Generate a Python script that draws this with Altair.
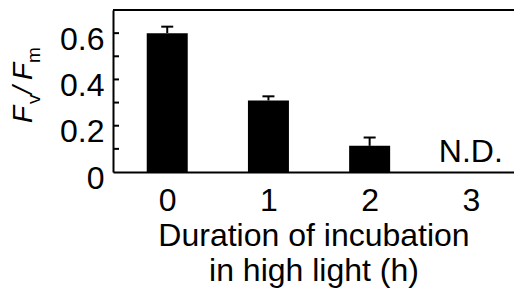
import altair as alt
import pandas as pd

hours = [0, 1, 2]
fvfm = [0.60, 0.309, 0.113]
err_upper = [0.628, 0.327, 0.149]
nd_hour = [3]
nd_text = ["N.D."]
x_ticks = [0, 1, 2, 3]
y_labels = [0, 0.2, 0.4, 0.6]
y_minor = [0.1, 0.2, 0.3, 0.4, 0.5, 0.6]

W, H = 401, 162
FONT = "Liberation Sans"
FS = 32

df = pd.DataFrame({"h": hours, "v": fvfm, "u": err_upper})
nd = pd.DataFrame({"h": nd_hour, "v": [0], "t": nd_text})
ticks = pd.DataFrame({"y": y_minor})

xs = alt.Scale(domain=[-0.4865, 3.377], nice=False, zero=False)
ys = alt.Scale(domain=[0, 0.7], nice=False)

xax = alt.Axis(values=x_ticks, format="d", tickSize=0, labelFontSize=FS, labelFont=FONT,
               labelColor="black", labelPadding=13, domainColor="black", domainWidth=2,
               grid=False, title=["Duration of incubation", "in high light (h)"],
               titleFont=FONT, titleFontSize=FS, titleFontWeight="normal", titleColor="black",
               titleLineHeight=35, titlePadding=4)
yax = alt.Axis(values=y_labels, labelExpr="datum.value == 0 ? '0' : format(datum.value, '.1f')",
               tickSize=0, labelFontSize=FS, labelFont=FONT, labelColor="black", labelPadding=9,
               labelBaseline="middle", labelOffset=6,
               domainColor="black", domainWidth=2, grid=False, title=None)

bars = alt.Chart(df).mark_bar(color="black", size=41).encode(
    x=alt.X("h:Q", scale=xs, axis=xax),
    y=alt.Y("v:Q", scale=ys, axis=yax),
)
stem = alt.Chart(df).mark_rule(color="black", strokeWidth=2).encode(
    x="h:Q", y="v:Q", y2="u:Q")
cap = alt.Chart(df).mark_rule(color="black", strokeWidth=2, xOffset=-6, x2Offset=6).encode(
    x="h:Q", x2="h:Q", y="u:Q")
ndt = alt.Chart(nd).mark_text(font=FONT, fontSize=FS, color="black", baseline="alphabetic", dy=-10).encode(
    x="h:Q", y="v:Q", text="t:N")
inticks = alt.Chart(ticks).mark_rule(color="black", strokeWidth=2).encode(
    y="y:Q", x=alt.value(0), x2=alt.value(6))
top = alt.Chart(ticks).mark_rule(color="black", strokeWidth=2).encode(
    y=alt.value(0), x=alt.value(0), x2=alt.value(W))

one = pd.DataFrame({"k": [0]})
def piece(txt, x, y, size, italic):
    return alt.Chart(one).mark_text(font=FONT, fontSize=size, color="black", angle=270,
                                    align="left", baseline="alphabetic",
                                    fontStyle="italic" if italic else "normal").encode(
        x=alt.value(x), y=alt.value(y), text=alt.value(txt))

ytitle = [
    piece("F", -81, 113, 28, True),
    piece("v", -73, 94, 19, False),
    piece("/", -81, 84, 28, True),
    piece("F", -81, 70, 28, True),
    piece("m", -73, 53, 19, False),
]

chart = alt.layer(bars, stem, cap, ndt, inticks, top, *ytitle).properties(
    width=W, height=H, autosize="none",
    padding={"left": 105, "top": 2, "right": 0, "bottom": 117},
).configure_view(stroke=None).configure(background="white")

chart.save("out.html", embed_options={"renderer": "svg", "actions": False})
